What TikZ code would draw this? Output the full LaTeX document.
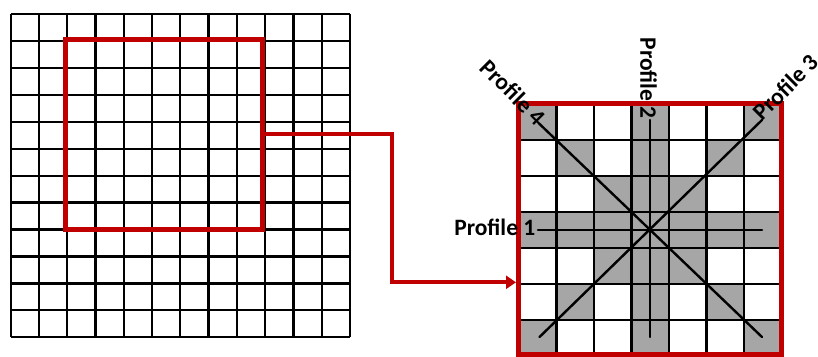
\documentclass[tikz,border=0pt]{standalone}
\usepackage{fontspec}
\setmainfont{Carlito}
\usetikzlibrary{arrows.meta}
\definecolor{selred}{HTML}{C00000}
\definecolor{cellgrey}{HTML}{A6A6A6}
\begin{document}
\begin{tikzpicture}[x=1pt,y=-1pt,
  gridline/.style={line width=2.4pt,black},
  fineline/.style={line width=2.2pt,black},
  profline/.style={line width=2.4pt,black,line cap=round},
  redframe/.style={draw=selred,line width=5pt,inner sep=0pt,fill=none},
  conn/.style={draw=selred,line width=4pt,-{Triangle[length=10pt,width=13pt]}},
  lbl/.style={font=\fontsize{23.5}{23.5}\selectfont\bfseries,inner sep=0pt,text=black}]
\useasboundingbox (0,0) rectangle (818,356);
% ---------- left grid ----------
\foreach \k in {0,...,12}{
  \pgfmathsetmacro\gx{10.7+28.27*\k}
  \pgfmathsetmacro\gy{14+26.94*\k}
  \draw[fineline] (\gx,14) -- (\gx,337.3);
  \draw[fineline] (10.7,\gy) -- (350,\gy);
}
\node[redframe,minimum width=196.6pt,minimum height=190pt] (sel) at (164,134.3) {};
% ---------- right grid ----------
\def\xs{{518.5,556.5,594,631.5,669,706.5,744,781.5}}
\def\ys{{103,140,176,212,248,284,320,354}}
\fill[cellgrey] (631.5,103) rectangle (669,354);
\fill[cellgrey] (518.5,212) rectangle (781.5,248);
\foreach \k in {0,...,6}{
  \pgfmathsetmacro\xa{\xs[\k]}
  \pgfmathsetmacro\xb{\xs[\k+1]}
  \pgfmathsetmacro\xc{\xs[6-\k]}
  \pgfmathsetmacro\xd{\xs[7-\k]}
  \pgfmathsetmacro\ya{\ys[\k]}
  \pgfmathsetmacro\yb{\ys[\k+1]}
  \fill[cellgrey] (\xa,\ya) rectangle (\xb,\yb);
  \fill[cellgrey] (\xc,\ya) rectangle (\xd,\yb);
}
\foreach \xx in {556.5,594,631.5,669,706.5,744}
  \draw[gridline] (\xx,103) -- (\xx,354);
\foreach \yy in {140,176,212,248,284,320}
  \draw[gridline] (518.5,\yy) -- (781.5,\yy);
% profile lines
\coordinate (c) at (650.25,230);
\coordinate (p1a) at (538,230);   \coordinate (p1b) at (762,230);
\coordinate (p2a) at (650.25,120);\coordinate (p2b) at (650.25,337);
\coordinate (p4a) at (538.5,123); \coordinate (p4b) at (762,337);
\coordinate (p3a) at (539.5,337); \coordinate (p3b) at (762,120);
\draw[profline] (p1a) -- (p1b);
\draw[profline] (p2a) -- (p2b);
\draw[profline] (p4a) -- (p4b);
\draw[profline] (p3a) -- (p3b);
\node[redframe,minimum width=263pt,minimum height=251pt] (detail) at (650,228.5) {};
% connector
\coordinate (bend) at (392,282.3);
\draw[conn] (sel.east) -| (bend) -- (detail.west |- bend);
% labels
\node[lbl,anchor=base east] (l1) at (535.5,235) {Profile 1};
\node[lbl,rotate=-90,anchor=east] (l2) at (648.5,119) {Profile 2};
\node[lbl,rotate=-45,anchor=east] (l4) at (542,121) {Profile 4};
\node[lbl,rotate=45,anchor=west] (l3) at (757,116) {Profile 3};
\end{tikzpicture}
\end{document}
